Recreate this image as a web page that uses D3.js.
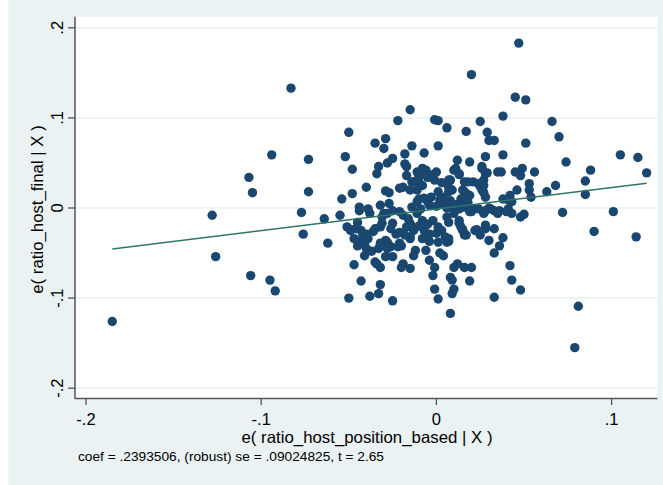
<!DOCTYPE html>
<html>
<head>
<meta charset="utf-8">
<script src="https://cdn.jsdelivr.net/npm/d3@7"></script>
<style>
  body { margin: 0; background: #fff; }
  text { font-family: "Liberation Sans", Arial, sans-serif; fill: #000; }
</style>
</head>
<body>
<div id="chart"></div>
<script>
// residuals: [e(x|X), e(y|X)]
const points = [
  [-0.185,-0.126],[-0.128,-0.008],[-0.126,-0.054],[-0.107,0.034],[-0.105,0.017],[-0.106,-0.075],
  [-0.095,-0.080],[-0.092,-0.092],[-0.094,0.059],[-0.083,0.133],[-0.077,-0.005],[-0.076,-0.029],
  [-0.073,0.054],[-0.073,0.018],[-0.064,-0.012],[-0.062,-0.039],[-0.055,-0.008],[-0.054,0.010],
  [-0.050,0.084],[-0.052,0.057],[-0.048,0.043],[-0.048,0.016],[-0.050,-0.100],[-0.047,-0.063],
  [-0.043,-0.081],[-0.040,0.023],[-0.044,0.001],[-0.051,-0.021],[-0.049,-0.024],
  [0.047,0.183],[0.020,0.148],[0.045,0.123],[0.051,0.120],[-0.015,0.109],[0.038,0.102],
  [-0.022,0.097],[-0.001,0.098],[0.001,0.097],[0.025,0.096],[0.066,0.096],[0.006,0.089],
  [0.017,0.085],[0.029,0.084],[0.030,0.075],[0.033,0.075],[0.070,0.079],[-0.029,0.077],
  [-0.035,0.072],[-0.030,0.066],[-0.014,0.069],[0.001,0.069],[0.051,0.072],[-0.007,0.061],
  [-0.018,0.060],[0.028,0.057],[0.038,0.059],[0.012,0.053],[0.019,0.051],[0.074,0.051],
  [0.105,0.059],[0.115,0.056],[0.120,0.039],[0.088,0.042],[0.085,0.030],[0.085,0.015],
  [0.101,-0.004],[0.072,-0.005],[0.090,-0.026],[0.114,-0.032],[0.081,-0.109],[0.079,-0.155],
  [0.063,0.018],[0.068,0.025],[0.056,0.040],[0.049,0.044],[0.045,0.040],[0.048,0.036],
  [0.053,0.027],[0.053,0.020],[0.054,0.012],[0.046,0.020],[0.042,0.014],[0.038,0.010],
  [0.043,0.007],[0.041,-0.001],[0.043,-0.006],[0.048,-0.010],[0.050,-0.007],[0.036,-0.003],
  [0.033,-0.003],[0.037,0.040],[0.035,0.040],[0.026,0.044],[0.028,0.038],[0.024,0.027],
  [0.027,0.025],[0.026,0.020],[0.028,0.012],[0.021,0.029],[0.018,0.029],[0.016,0.018],
  [0.019,0.014],[0.015,0.008],[0.010,0.042],[0.013,0.038],[0.007,0.031],[0.007,0.023],
  [0.007,0.018],[0.003,0.028],[-0.001,0.031],[-0.002,0.037],[-0.007,0.038],[-0.008,0.044],
  [-0.011,0.040],[-0.005,0.034],[-0.010,0.029],[-0.013,0.029],[-0.008,0.025],[0.001,0.018],
  [-0.003,0.012],[0.002,0.009],[-0.005,0.007],[-0.011,0.007],[-0.009,-0.001],[0.004,0.004],
  [0.010,0.001],[0.013,-0.001],[0.021,-0.001],[0.024,-0.001],[0.028,-0.003],[0.031,-0.001],
  [0.016,0.001],[-0.018,0.049],[-0.017,0.046],[-0.025,0.055],[-0.028,0.050],[-0.033,0.046],
  [-0.034,0.038],[-0.017,0.036],[-0.014,0.029],[-0.019,0.023],[-0.021,0.022],[-0.015,0.020],
  [-0.029,0.019],[-0.027,0.017],[-0.027,0.005],[-0.025,-0.003],[-0.028,-0.006],[-0.021,-0.004],
  [-0.019,-0.008],[-0.016,-0.012],[-0.014,0.001],[-0.011,-0.006],[-0.015,-0.017],[-0.017,-0.021],
  [-0.013,-0.025],[-0.008,-0.014],[-0.007,-0.025],[-0.004,-0.029],[-0.002,-0.014],[0.001,-0.021],
  [0.003,-0.025],[0.006,-0.010],[0.007,-0.016],[0.013,-0.014],[0.014,-0.021],[0.015,-0.025],
  [0.016,-0.030],[0.022,-0.025],[0.025,-0.030],[0.028,-0.023],[0.033,-0.023],[0.030,-0.036],
  [0.038,-0.033],[0.036,-0.042],[0.033,-0.050],[0.042,-0.064],[0.043,-0.080],[0.048,-0.091],
  [0.033,-0.099],[0.019,-0.081],[0.020,-0.066],[0.016,-0.066],[0.012,-0.062],[0.010,-0.066],
  [0.008,-0.077],[0.009,-0.080],[0.010,-0.090],[0.009,-0.095],[0.008,-0.117],[0.001,-0.101],
  [-0.001,-0.090],[-0.001,-0.066],[-0.002,-0.075],[-0.004,-0.058],[-0.006,-0.047],[0.004,-0.053],
  [0.001,-0.038],[0.006,-0.038],[0.007,-0.034],[-0.012,-0.047],[-0.013,-0.053],[-0.015,-0.067],
  [-0.019,-0.062],[-0.020,-0.066],[-0.015,-0.034],[-0.020,-0.042],[-0.022,-0.043],[-0.023,-0.029],
  [-0.025,-0.017],[-0.031,-0.017],[-0.032,-0.021],[-0.029,-0.036],[-0.028,-0.045],[-0.032,-0.042],
  [-0.033,-0.045],[-0.029,-0.054],[-0.025,-0.054],[-0.025,-0.103],[-0.032,-0.085],[-0.033,-0.095],
  [-0.038,-0.098],[-0.034,-0.062],[-0.032,-0.066],[-0.035,-0.060],[-0.040,-0.045],[-0.041,-0.053],
  [-0.040,-0.029],[-0.039,-0.034],[-0.043,-0.025],[-0.042,-0.030],[-0.045,-0.042],[-0.047,-0.034],
  [-0.044,-0.037],[-0.049,-0.025],[-0.046,-0.023],[-0.045,-0.016],[-0.039,-0.001],[-0.038,-0.006],
  [-0.044,-0.003],[-0.030,-0.006],[-0.032,0.003],[-0.031,-0.010],
  [-0.011,0.020],[0.026,0.046],[0.029,0.039],[0.027,0.031],[0.025,0.024],[0.027,0.017],
  [0.011,0.044],[0.013,0.037],[0.016,0.029],[0.015,0.020],[0.017,0.016],[0.008,0.031],
  [0.009,0.020],[0.041,0.009],[0.030,0.000],[0.005,-0.032],[0.007,-0.037],[0.002,-0.050],
  [-0.032,-0.039],[-0.028,-0.038],[-0.026,-0.043],[-0.021,-0.039],[-0.015,-0.032],[-0.014,-0.021],
  [-0.004,-0.037],[0.028,-0.019],[0.023,-0.024],[0.017,-0.030],[0.015,-0.024],[0.013,-0.017],
  [0.008,0.008],[0.012,0.004],[0.018,0.006],[0.020,-0.004],[0.006,0.000],[0.014,0.010],
  [-0.010,0.010],[-0.004,0.003],[0.000,0.002],[-0.007,0.011],[0.004,0.012],
  [-0.006,0.042],[-0.002,0.033],[0.000,0.040],[-0.010,0.035],
  [0.010,-0.006],[0.019,-0.004],[0.027,-0.006],[0.035,-0.006],[0.040,-0.004],
  [-0.035,-0.023],[-0.036,-0.026],[-0.037,-0.048],[-0.041,-0.040],[-0.026,-0.023],[-0.021,-0.027],
  [-0.018,-0.030],[-0.010,-0.020],[-0.005,-0.018],[0.000,-0.028],[-0.008,-0.034]
];

const xTicks = [-0.2, -0.1, 0, 0.1];
const yTicks = [-0.2, -0.1, 0, 0.1, 0.2];
const xTickLabels = ["-.2", "-.1", "0", ".1"];
const yTickLabels = ["-.2", "-.1", "0", ".1", ".2"];
const coef = 0.2393506;
const intercept = -0.0012;
const xTitle = "e( ratio_host_position_based | X )";
const yTitle = "e( ratio_host_final | X )";
const note = "coef = .2393506, (robust) se = .09024825, t = 2.65";

const width = 663, height = 485;
const plot = { left: 75, right: 657.5, top: 16.7, bottom: 398.5 };

const x = d3.scaleLinear().domain([-0.2, 0.1]).range([86, 611.6]);
const y = d3.scaleLinear().domain([-0.2, 0.2]).range([388.2, 27.8]);

const svg = d3.select("#chart").append("svg")
  .attr("width", width).attr("height", height);

// graph region and plot region
svg.append("rect").attr("x", 8.5).attr("y", 0).attr("width", width - 8.5).attr("height", height)
  .attr("fill", "#eaf2f3");
svg.append("rect").attr("x", plot.left).attr("y", plot.top)
  .attr("width", plot.right - plot.left).attr("height", plot.bottom - plot.top)
  .attr("fill", "#fff");

// grid
svg.append("g").selectAll("line").data(yTicks).join("line")
  .attr("x1", plot.left).attr("x2", plot.right)
  .attr("y1", d => y(d)).attr("y2", d => y(d))
  .attr("stroke", "#eaf2f3").attr("stroke-width", 1.6);

// points
svg.append("g").selectAll("circle").data(points).join("circle")
  .attr("cx", d => x(d[0])).attr("cy", d => y(d[1]))
  .attr("r", 4.7).attr("fill", "#1a476f");

// fitted line
const xs = d3.extent(points, d => d[0]);
svg.append("line")
  .attr("x1", x(xs[0])).attr("y1", y(coef * xs[0] + intercept))
  .attr("x2", x(xs[1])).attr("y2", y(coef * xs[1] + intercept))
  .attr("stroke", "#2f7565").attr("stroke-width", 1.4);

// axes
const axisColor = "#555";
svg.append("line").attr("x1", plot.left).attr("x2", plot.left)
  .attr("y1", plot.top).attr("y2", plot.bottom + 0.5)
  .attr("stroke", axisColor).attr("stroke-width", 1.5);
svg.append("line").attr("x1", plot.left).attr("x2", plot.right)
  .attr("y1", plot.bottom).attr("y2", plot.bottom)
  .attr("stroke", axisColor).attr("stroke-width", 1.5);

svg.append("g").selectAll("line").data(yTicks).join("line")
  .attr("x1", 68).attr("x2", plot.left)
  .attr("y1", d => y(d)).attr("y2", d => y(d))
  .attr("stroke", axisColor).attr("stroke-width", 1.3);
svg.append("g").selectAll("line").data(xTicks).join("line")
  .attr("x1", d => x(d)).attr("x2", d => x(d))
  .attr("y1", plot.bottom).attr("y2", 405)
  .attr("stroke", axisColor).attr("stroke-width", 1.3);

svg.append("g").selectAll("text").data(xTicks).join("text")
  .attr("x", d => x(d)).attr("y", 424.5)
  .attr("text-anchor", "middle").attr("font-size", 16.5)
  .text((d, i) => xTickLabels[i]);

svg.append("g").selectAll("text").data(yTicks).join("text")
  .attr("transform", d => `translate(63.4,${y(d)}) rotate(-90)`)
  .attr("text-anchor", "middle").attr("font-size", 16.5)
  .text((d, i) => yTickLabels[i]);

// titles
svg.append("text").attr("x", 367).attr("y", 443)
  .attr("text-anchor", "middle").attr("font-size", 16.5)
  .attr("textLength", 251).attr("lengthAdjust", "spacingAndGlyphs")
  .text(xTitle);

svg.append("text").attr("transform", "translate(43,209.5) rotate(-90)")
  .attr("text-anchor", "middle").attr("font-size", 16.8)
  .text(yTitle);

svg.append("text").attr("x", 78).attr("y", 461)
  .attr("font-size", 12.5)
  .attr("textLength", 306).attr("lengthAdjust", "spacingAndGlyphs")
  .text(note);
</script>
</body>
</html>
